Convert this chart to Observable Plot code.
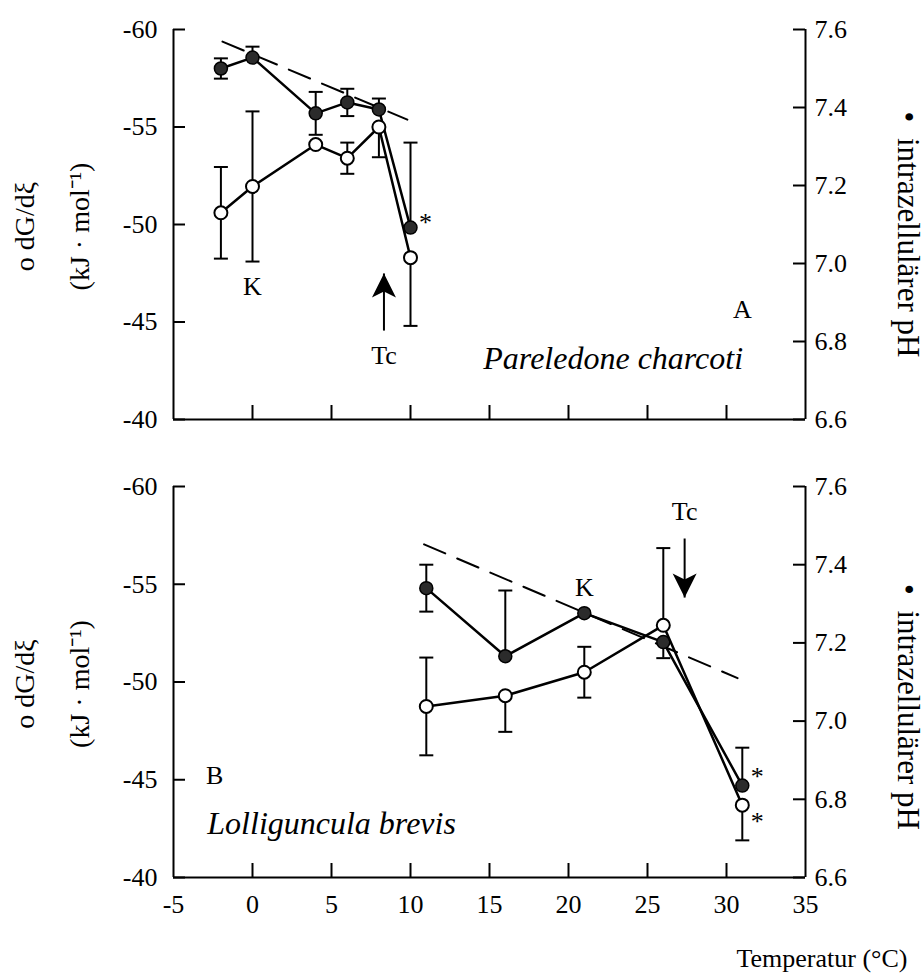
<!DOCTYPE html>
<html>
<head>
<meta charset="utf-8">
<script src="https://cdn.jsdelivr.net/npm/d3@7"></script>
<script src="https://cdn.jsdelivr.net/npm/@observablehq/plot@0.6"></script>
<style>
  body { margin: 0; background: #fff; }
  #chart { position: relative; width: 924px; height: 978px; }
  .layer { position: absolute; left: 0; }
</style>
</head>
<body>
<div id="chart"></div>
<script>
// ---- Panel A: Pareledone charcoti ----
const tempsA = [-2, 0, 4, 6, 8, 10];
const dG_A = [-50.6, -51.95, -54.1, -53.4, -55.0, -48.3];
const dG_A_sd = [2.35, 3.85, 0, 0.8, 1.55, 3.5];
const dG_A_side = ["both", "both", "none", "both", "down", "down"];
const pH_A = [7.500, 7.528, 7.385, 7.413, 7.395, 7.092];
const pH_A_sd = [0.026, 0.028, 0.055, 0.035, 0.028, 0.218];
const pH_A_side = ["both", "up", "both", "both", "up", "up"];
const trendA_t = [-1.9, 9.8];
const trendA_pH = [7.569, 7.369];

// ---- Panel B: Lolliguncula brevis ----
const tempsB = [11, 16, 21, 26, 31];
const dG_B = [-48.75, -49.3, -50.5, -52.9, -43.7];
const dG_B_sd = [2.5, 1.85, 1.3, 3.95, 1.8];
const dG_B_side = ["both", "down", "both", "up", "down"];
const pH_B = [7.340, 7.166, 7.276, 7.202, 6.835];
const pH_B_sd = [0.06, 0.168, 0, 0.041, 0.097];
const pH_B_side = ["both", "up", "none", "down", "up"];
const trendB_t = [10.86, 30.7];
const trendB_pH = [7.452, 7.110];

// ---- axes ----
const xTicks = [-5, 0, 5, 10, 15, 20, 25, 30, 35];
const dGTicks = [-60, -55, -50, -45, -40];
const pHTicks = [6.6, 6.8, 7.0, 7.2, 7.4, 7.6];
const xTitle = "Temperatur (°C)";
const dGTitle = "o dG/dξ";
const dGUnit = "(kJ · mol⁻¹)";
const pHTitle = "•  intrazellulärer pH";

// ---- annotations (in temperature / dG/dξ units) ----
const notesA = {
  letter: {t: 31, v: -45.23, text: "A", anchor: "middle"},
  species: {t: 31.05, v: -42.6, text: "Pareledone charcoti", anchor: "end"},
  k: {t: 0, v: -46.36, text: "K"},
  tc: {t: 8.32, textV: -42.87, tail: -44.56, tip: -47.49, dir: "up"},
  starsPH: [{t: 10, dy: -5}],
  starsDG: []
};
const notesB = {
  letter: {t: -2.4, v: -44.8, text: "B", anchor: "middle"},
  species: {t: -2.86, v: -42.25, text: "Lolliguncula brevis", anchor: "start"},
  k: {t: 21, v: -54.42, text: "K"},
  tc: {t: 27.35, textV: -58.31, tail: -57.34, tip: -54.32, dir: "down"},
  starsPH: [{t: 31, dy: -9}],
  starsDG: [{t: 31, dy: 17}]
};

const FONT = '"Liberation Serif", "Times New Roman", serif';
const ML = 173, MR = 119, WIDTH = 924;
const FW = WIDTH - ML - MR;

// custom symbols: error-bar cap and filled arrowheads (tip at origin)
const capSymbol = {draw(ctx) { ctx.moveTo(-7, 0); ctx.lineTo(7, 0); }};
const headUp = {draw(ctx) { ctx.moveTo(0, 0); ctx.lineTo(12, 24); ctx.lineTo(0, 18); ctx.lineTo(-12, 24); ctx.closePath(); }};
const headDown = {draw(ctx) { ctx.moveTo(0, 0); ctx.lineTo(12, -24); ctx.lineTo(0, -18); ctx.lineTo(-12, -24); ctx.closePath(); }};

// error bars; "up" means toward the top of the panel
function errorRows(t, v, sd, side, upIsPlus) {
  const rules = [], caps = [];
  t.forEach((x, i) => {
    const s = side[i];
    if (s === "none" || !sd[i]) return;
    const up = upIsPlus ? v[i] + sd[i] : v[i] - sd[i];
    const down = upIsPlus ? v[i] - sd[i] : v[i] + sd[i];
    rules.push({x, y1: s === "down" ? v[i] : up, y2: s === "up" ? v[i] : down});
    if (s !== "down") caps.push({x, y: up});
    if (s !== "up") caps.push({x, y: down});
  });
  return {rules, caps};
}

function layer(cfg, yDomain, marks) {
  return Plot.plot({
    width: WIDTH, height: cfg.height,
    marginTop: cfg.marginTop, marginBottom: cfg.marginBottom,
    marginLeft: ML, marginRight: MR,
    x: {domain: [-5, 35], axis: null},
    y: {domain: yDomain, axis: null},
    style: {background: "transparent", fontFamily: FONT, fontSize: "26px", color: "black", overflow: "visible"},
    marks
  });
}

function buildPanel(cfg) {
  const FH = cfg.height - cfg.marginTop - cfg.marginBottom;
  const open = cfg.temps.map((t, i) => ({t, v: cfg.dG[i]}));
  const filled = cfg.temps.map((t, i) => ({t, v: cfg.pH[i]}));
  const trend = cfg.trendT.map((t, i) => ({t, v: cfg.trendPH[i]}));
  const eOpen = errorRows(cfg.temps, cfg.dG, cfg.dGsd, cfg.dGside, false);
  const eFill = errorRows(cfg.temps, cfg.pH, cfg.pHsd, cfg.pHside, true);
  const n = cfg.notes;
  const starsPH = n.starsPH.map(s => ({t: s.t, v: cfg.pH[cfg.temps.indexOf(s.t)], dy: s.dy}));
  const starsDG = n.starsDG.map(s => ({t: s.t, v: cfg.dG[cfg.temps.indexOf(s.t)], dy: s.dy}));

  // pH layer (right axis, filled circles, dashed trend)
  const phLayer = layer(cfg, [6.6, 7.6], [
    Plot.ruleX([35], {strokeWidth: 2}),
    Plot.tickY(pHTicks, {y: d => d, insetLeft: FW - 12, strokeWidth: 2}),
    Plot.axisY({anchor: "right", ticks: pHTicks, tickSize: 0, tickPadding: 9, tickFormat: d => d.toFixed(1), fontSize: 26}),
    Plot.line(trend, {x: "t", y: "v", stroke: "black", strokeWidth: 2, strokeDasharray: "23,13"}),
    Plot.line(filled, {x: "t", y: "v", stroke: "black", strokeWidth: 2.5}),
    Plot.ruleX(eFill.rules, {x: "x", y1: "y1", y2: "y2", strokeWidth: 2}),
    Plot.dot(eFill.caps, {x: "x", y: "y", symbol: capSymbol, fill: "none", stroke: "black", strokeWidth: 2}),
    Plot.dot(filled, {x: "t", y: "v", r: 6.5, fill: "#2b2b2b", stroke: "black", strokeWidth: 1.5}),
    ...starsPH.map(s => Plot.text([s], {x: "t", y: "v", text: () => "*", dx: 15, dy: s.dy, fontSize: 26})),
    Plot.text([pHTitle], {frameAnchor: "right", text: d => d, textAnchor: "middle", rotate: 90, dx: 102, dy: cfg.titleDyR, fontSize: 31})
  ]);

  // dG/dξ layer (left and bottom axes, open circles, labels)
  const dgMarks = [
    Plot.ruleX([-5], {strokeWidth: 2}),
    Plot.ruleY([-40], {strokeWidth: 2}),
    Plot.tickY(dGTicks, {y: d => d, insetRight: FW - 12, strokeWidth: 2}),
    Plot.tickX(xTicks.slice(1, -1), {x: d => d, insetTop: FH - 14, strokeWidth: 2}),
    Plot.axisY({anchor: "left", ticks: dGTicks, tickSize: 0, tickPadding: 16, tickFormat: d => String(d), fontSize: 26}),
    Plot.line(open, {x: "t", y: "v", stroke: "black", strokeWidth: 2.5}),
    Plot.ruleX(eOpen.rules, {x: "x", y1: "y1", y2: "y2", strokeWidth: 2}),
    Plot.dot(eOpen.caps, {x: "x", y: "y", symbol: capSymbol, fill: "none", stroke: "black", strokeWidth: 2}),
    Plot.dot(open, {x: "t", y: "v", r: 6.5, fill: "white", stroke: "black", strokeWidth: 2}),
    ...starsDG.map(s => Plot.text([s], {x: "t", y: "v", text: () => "*", dx: 15, dy: s.dy, fontSize: 26})),
    Plot.text([n.letter], {x: "t", y: "v", text: "text", textAnchor: n.letter.anchor, lineAnchor: "bottom", fontSize: 26}),
    Plot.text([n.species], {x: "t", y: "v", text: "text", textAnchor: n.species.anchor, lineAnchor: "bottom", fontSize: 32, fontStyle: "italic"}),
    Plot.text([n.k], {x: "t", y: "v", text: "text", lineAnchor: "bottom", fontSize: 26}),
    Plot.text([n.tc], {x: "t", y: "textV", text: () => "Tc", lineAnchor: "bottom", fontSize: 26}),
    Plot.link([n.tc], {x1: "t", y1: "tail", x2: "t", y2: "tip", stroke: "black", strokeWidth: 2}),
    Plot.dot([n.tc], {x: "t", y: "tip", symbol: n.tc.dir === "up" ? headUp : headDown, fill: "black", stroke: "none"}),
    Plot.text([dGTitle], {frameAnchor: "left", text: d => d, textAnchor: "middle", rotate: -90, dx: -148, dy: 2, fontSize: 28}),
    Plot.text([dGUnit], {frameAnchor: "left", text: d => d, textAnchor: "middle", rotate: -90, dx: -93, dy: 2, fontSize: 28})
  ];
  if (cfg.showX) {
    dgMarks.push(
      Plot.axisX({anchor: "bottom", ticks: xTicks, tickSize: 0, tickPadding: 17, tickFormat: d => String(d), fontSize: 26}),
      Plot.text([xTitle], {frameAnchor: "bottom-right", text: d => d, textAnchor: "end", lineAnchor: "bottom", dx: 102, dy: 89, fontSize: 26})
    );
  }
  const dgLayer = layer(cfg, [-40, -60], dgMarks);

  const wrap = document.createElement("div");
  wrap.className = "layer";
  wrap.style.top = cfg.top + "px";
  wrap.style.width = WIDTH + "px";
  wrap.style.height = cfg.height + "px";
  for (const svg of [phLayer, dgLayer]) {
    svg.style.position = "absolute";
    svg.style.left = "0px";
    svg.style.top = "0px";
    wrap.appendChild(svg);
  }
  return wrap;
}

const chart = document.getElementById("chart");
chart.appendChild(buildPanel({
  top: 0, height: 450, marginTop: 29, marginBottom: 31,
  temps: tempsA, dG: dG_A, dGsd: dG_A_sd, dGside: dG_A_side,
  pH: pH_A, pHsd: pH_A_sd, pHside: pH_A_side,
  trendT: trendA_t, trendPH: trendA_pH,
  notes: notesA, showX: false, titleDyR: 10
}));
chart.appendChild(buildPanel({
  top: 450, height: 528, marginTop: 36, marginBottom: 101,
  temps: tempsB, dG: dG_B, dGsd: dG_B_sd, dGside: dG_B_side,
  pH: pH_B, pHsd: pH_B_sd, pHside: pH_B_side,
  trendT: trendB_t, trendPH: trendB_pH,
  notes: notesB, showX: true, titleDyR: 25
}));
</script>
</body>
</html>
